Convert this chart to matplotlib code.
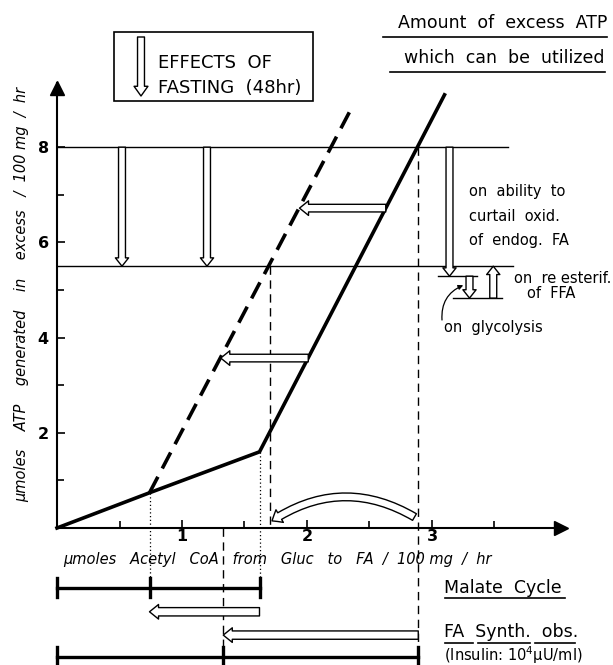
import matplotlib
matplotlib.use("Agg")
import matplotlib.pyplot as plt
from matplotlib.patches import FancyArrowPatch, Rectangle
from matplotlib.lines import Line2D

# Kurvy (x: umol acetyl CoA, y: umol ATP)
solid_x = [0.0, 0.74, 1.62, 3.10]
solid_y = [0.0, 0.74, 1.60, 9.10]
fast_x = [0.74, 2.37]
fast_y = [0.74, 8.89]

# Hladiny ATP
atp_levels = [8.0, 5.5]
level_ends = [3.61, 3.65]

# Efekty hladoveni (sipky dolu 8 -> 5.5)
fast_arrow_x = [0.52, 1.20]

# Posun na levou krivku
shift_y = [6.72, 3.57]
shift_from = [2.63, 2.01]
shift_to = [1.94, 1.31]

# Pomocne svisle cary
kinks_x = [0.74, 1.62]
kinks_y = [0.74, 1.60]
cross_x = 1.70   # prusecik prerusovane krivky s 5.5
synth_x = 1.33   # FA synth. obs. (hladoveni)
full_x = 2.89    # prusecik plne krivky s 8

# Spodni useky
malate_y = -1.26
malate_ticks = [0.0, 0.74, 1.62]
synth_y = -2.71
synth_ticks = [0.0, 1.33, 2.89]
malate_arrow_y = -1.76
synth_arrow_y = -2.25

# Prava strana
right_down = (3.14, 8.0, 5.29)
right_small = (3.30, 5.29, 4.83)
right_up = (3.49, 4.83, 5.5)
step_lines = [(5.29, 3.05, 3.36), (4.83, 3.17, 3.56)]

xticks = [1, 2, 3]
xminor = [0.5, 1.5, 2.5, 3.5]
yticks = [2, 4, 6, 8]
yminor = [1, 3, 5, 7]

W, H = 613, 665
X0, Y0 = 57, 528
XU, YU = 125.0, 47.6
XMAX, YMAX = 4.07, 9.35

fig = plt.figure(figsize=(W / 100, H / 100), dpi=100)
ax = fig.add_axes([X0 / W, (H - Y0) / H, XMAX * XU / W, YMAX * YU / H])
ax.set_xlim(0, XMAX)
ax.set_ylim(0, YMAX)

for s in ["top", "right"]:
    ax.spines[s].set_visible(False)
for s in ["left", "bottom"]:
    ax.spines[s].set_linewidth(1.5)

ax.set_xticks(xticks)
ax.set_xticks(xminor, minor=True)
ax.set_yticks(yticks)
ax.set_yticks(yminor, minor=True)
ax.tick_params(which="both", direction="in", width=1.2)
ax.tick_params(which="major", length=6)
ax.tick_params(which="minor", length=5)
ax.tick_params(axis="x", pad=1)
ax.tick_params(axis="y", pad=6)
for lab in ax.get_xticklabels() + ax.get_yticklabels():
    lab.set_fontweight("bold")
    lab.set_fontsize(11.5)

# sipky os
ax.plot([XMAX - 0.04], [0], marker=">", ms=10, color="k", clip_on=False)
ax.plot([0], [YMAX - 0.1], marker="^", ms=10, color="k", clip_on=False)


def px_to_fig(x, y):
    return x / W, 1 - y / H


def open_arrow(p0, p1, tw=5.5, hw=10.5, hl=6.5, rad=0.0, lw=1.0):
    a = FancyArrowPatch(p0, p1,
                        arrowstyle=f"simple,head_width={hw},head_length={hl},tail_width={tw}",
                        connectionstyle=f"arc3,rad={rad}",
                        fc="white", ec="black", lw=lw, shrinkA=0, shrinkB=0,
                        mutation_scale=1, clip_on=False, zorder=5)
    ax.add_patch(a)


# krivky
ax.plot(solid_x, solid_y, color="k", lw=2.6, clip_on=False, solid_joinstyle="miter")
ax.plot(fast_x, fast_y, color="k", lw=2.6, dashes=(5, 2.6), clip_on=False)

# hladiny
for lv, xe in zip(atp_levels, level_ends):
    ax.plot([0, xe], [lv, lv], color="k", lw=1.0, clip_on=False)

# svisle pomocne cary
for kx, ky in zip(kinks_x, kinks_y):
    ax.plot([kx, kx], [ky, malate_y], color="k", lw=0.9, ls=(0, (1, 2)), clip_on=False)
ax.plot([cross_x, cross_x], [atp_levels[1], 0], color="k", lw=1.0, dashes=(6, 4), clip_on=False)
ax.plot([synth_x, synth_x], [0, synth_y], color="k", lw=1.0, dashes=(6, 4), clip_on=False)
ax.plot([full_x, full_x], [atp_levels[0], synth_y], color="k", lw=1.0, dashes=(6, 4), clip_on=False)

# sipky hladoveni
for xa in fast_arrow_x:
    open_arrow((xa, atp_levels[0]), (xa, atp_levels[1]), tw=5, hw=9.5, hl=6)

for yy, xf, xt in zip(shift_y, shift_from, shift_to):
    open_arrow((xf, yy), (xt, yy))

# oblouk pod krivkou
open_arrow((2.86, 0.23), (1.72, 0.15), tw=5.5, hw=10.5, hl=6.5, rad=0.31)

# prava strana
open_arrow((right_down[0], right_down[1]), (right_down[0], right_down[2]), tw=5, hw=9.5, hl=6)
open_arrow((right_small[0], right_small[1]), (right_small[0], right_small[2]), tw=5, hw=9.5, hl=6)
open_arrow((right_up[0], right_up[1]), (right_up[0], right_up[2]), tw=5, hw=9.5, hl=6)
for yy, x1, x2 in step_lines:
    ax.plot([x1, x2], [yy, yy], color="k", lw=1.0, clip_on=False)

ax.annotate("", xy=(3.25, 5.1), xytext=(3.08, 4.37),
            arrowprops=dict(arrowstyle="-|>", color="k", lw=0.9, mutation_scale=7,
                            connectionstyle="arc3,rad=-0.35", shrinkA=0, shrinkB=0),
            annotation_clip=False)

rfs = 10.5
ax.text(3.30, 7.06, "on  ability  to", fontsize=rfs, va="center", ha="left")
ax.text(3.30, 6.55, "curtail  oxid.", fontsize=rfs, va="center", ha="left")
ax.text(3.30, 6.05, "of  endog.  FA", fontsize=rfs, va="center", ha="left")
ax.text(3.66, 5.25, "on  re esterif.", fontsize=rfs, va="center", ha="left")
ax.text(3.76, 4.92, "of  FFA", fontsize=rfs, va="center", ha="left")
ax.text(3.10, 4.22, "on  glycolysis", fontsize=rfs, va="center", ha="left")

# spodni useky
for by, ticks in [(malate_y, malate_ticks), (synth_y, synth_ticks)]:
    ax.plot([ticks[0], ticks[-1]], [by, by], color="k", lw=2.4, clip_on=False)
    for t in ticks:
        ax.plot([t, t], [by - 0.2, by + 0.2], color="k", lw=2.4, clip_on=False)

open_arrow((malate_ticks[-1], malate_arrow_y), (malate_ticks[1], malate_arrow_y), tw=6, hw=10.5, hl=6.5)
open_arrow((synth_ticks[-1], synth_arrow_y), (synth_ticks[1], synth_arrow_y), tw=6, hw=10.5, hl=6.5)

# popisky os
ax.text(1.76, -0.67, "μmoles   Acetyl   CoA   from   Gluc   to   FA  /  100 mg  /  hr",
        fontsize=10.5, style="italic", ha="center", va="center")
ax.text(-0.28, 4.9, "μmoles    ATP    generated    in    excess   /  100 mg  /  hr",
        fontsize=10.5, style="italic", ha="center", va="center", rotation=90)

# texty vpravo dole
ax.text(3.10, malate_y, "Malate  Cycle", fontsize=12.5, va="center", ha="left")
ax.text(3.10, -2.18, "FA  Synth.  obs.", fontsize=12.5, va="center", ha="left")
ax.text(3.10, -2.68, "(Insulin: 10$^{4}$μU/ml)", fontsize=10.5, va="center", ha="left")

# podtrzeni (pixely)
underlines = [(445, 565, 598), (445, 473, 643), (478, 530, 643), (535, 575, 643),
              (383, 607, 37), (390, 605, 72)]
for x1, x2, yy in underlines:
    a, b = px_to_fig(x1, yy)
    c, d = px_to_fig(x2, yy)
    fig.add_artist(Line2D([a, c], [b, d], color="k", lw=1.2))

# nadpis vpravo nahore
fx, fy = px_to_fig(607, 23)
fig.text(fx, fy, "Amount  of  excess  ATP", fontsize=12.5, ha="right", va="center")
fx, fy = px_to_fig(605, 58)
fig.text(fx, fy, "which  can  be  utilized", fontsize=12.5, ha="right", va="center")

# ramecek legendy
bx, by = px_to_fig(114, 101)
fig.add_artist(Rectangle((bx, by), (313 - 114) / W, (101 - 32) / H, transform=fig.transFigure,
                         fill=False, ec="k", lw=1.2))
a0 = px_to_fig(141, 37)
a1 = px_to_fig(141, 96)
fig.add_artist(FancyArrowPatch(a0, a1, transform=fig.transFigure,
                               arrowstyle="simple,head_width=10,head_length=7,tail_width=5",
                               fc="white", ec="k", lw=1.0, shrinkA=0, shrinkB=0, mutation_scale=1))
fx, fy = px_to_fig(158, 63)
fig.text(fx, fy, "EFFECTS  OF", fontsize=13, ha="left", va="center")
fx, fy = px_to_fig(158, 88)
fig.text(fx, fy, "FASTING  (48hr)", fontsize=13, ha="left", va="center")

fig.savefig("out.png", dpi=100)
